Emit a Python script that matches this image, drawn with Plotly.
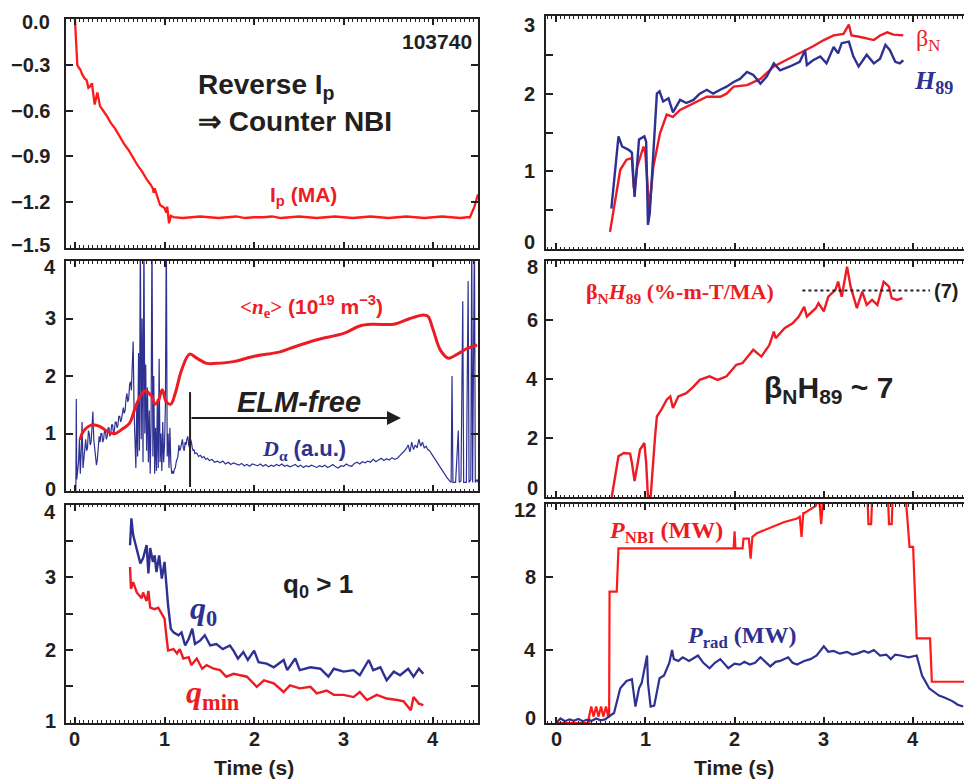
import plotly.graph_objects as go

W, H = 964, 780
INK = "#231f20"
RED = "#ed1c24"
RED2 = "#ff1a1a"
BLUE = "#2e3192"

# ---------------- data ----------------
# Top-left: plasma current Ip (MA)
ip_t = [0.0, 0.01, 0.026, 0.045, 0.06, 0.08, 0.11, 0.13, 0.15, 0.17, 0.19, 0.20, 0.22, 0.25, 0.28,
        0.35, 0.40, 0.45, 0.50, 0.55, 0.60, 0.65, 0.70, 0.75, 0.80, 0.85, 0.868, 0.88, 0.89,
        0.95, 1.0, 1.02, 1.03, 1.05, 1.07, 1.10,
        1.2, 1.3, 1.4, 1.5, 1.6, 1.7, 1.8, 1.9, 2.0, 2.1, 2.2, 2.3, 2.4, 2.5, 2.6, 2.7, 2.8,
        2.9, 3.0, 3.1, 3.2, 3.3, 3.4, 3.5, 3.6, 3.7, 3.8, 3.9, 4.0, 4.1, 4.2, 4.3, 4.38,
        4.41, 4.46, 4.5]
ip_v = [0.0, -0.12, -0.30, -0.32, -0.33, -0.36, -0.39, -0.40, -0.45, -0.44, -0.42, -0.47, -0.56, -0.48, -0.57,
        -0.63, -0.68, -0.72, -0.77, -0.82, -0.86, -0.91, -0.96, -1.00, -1.05, -1.09, -1.11, -1.14, -1.11,
        -1.22, -1.24, -1.27, -1.23, -1.34, -1.29, -1.30,
        -1.305, -1.30, -1.295, -1.30, -1.305, -1.30, -1.295, -1.305, -1.30, -1.30, -1.295, -1.305, -1.30, -1.295, -1.30, -1.305, -1.30,
        -1.295, -1.30, -1.305, -1.30, -1.295, -1.30, -1.305, -1.30, -1.295, -1.30, -1.305, -1.30, -1.295, -1.30, -1.305, -1.30,
        -1.30, -1.23, -1.15]

# Middle-left: line-averaged density <ne> (1e19 m^-3)
ne_t = [0.056, 0.09, 0.19, 0.28, 0.39, 0.45, 0.54, 0.61, 0.69, 0.78, 0.86, 0.89, 0.93, 0.975, 1.02, 1.07,
        1.12, 1.19, 1.28, 1.36, 1.47, 1.58, 1.77, 1.99, 2.29, 2.40, 2.70, 3.0, 3.18, 3.33, 3.56, 3.74,
        3.89, 3.94, 4.0, 4.08, 4.17, 4.28, 4.38, 4.49]
ne_v = [0.89, 1.03, 1.15, 1.12, 1.01, 1.0, 1.09, 1.18, 1.52, 1.74, 1.64, 1.51, 1.57, 1.76, 1.55, 1.51,
        1.70, 2.10, 2.38, 2.31, 2.22, 2.22, 2.25, 2.34, 2.42, 2.48, 2.63, 2.74, 2.87, 2.90, 2.90, 3.0,
        3.06, 3.04, 2.80, 2.45, 2.31, 2.39, 2.48, 2.54]

# Middle-left: D-alpha (a.u.)
da_t = [0.0, 0.01, 0.015, 0.02, 0.03, 0.04, 0.05, 0.06, 0.07, 0.08, 0.09, 0.10, 0.11, 0.12, 0.13, 0.14,
        0.15, 0.16, 0.17, 0.18, 0.19, 0.20, 0.21, 0.22, 0.23, 0.24, 0.25, 0.26, 0.27, 0.28, 0.29, 0.30,
        0.31, 0.32, 0.33, 0.34, 0.35, 0.36, 0.37, 0.38, 0.39, 0.40, 0.41, 0.42, 0.43, 0.44, 0.45, 0.46,
        0.47, 0.48, 0.49, 0.50, 0.51, 0.52, 0.53, 0.54, 0.55, 0.56, 0.57, 0.58, 0.59, 0.60, 0.61, 0.62,
        0.63, 0.64, 0.65, 0.66, 0.67, 0.68, 0.69, 0.70, 0.71, 0.72,
        0.73, 0.74, 0.75, 0.76, 0.77, 0.78, 0.79, 0.80, 0.81, 0.82, 0.83, 0.84, 0.85, 0.86, 0.87, 0.88,
        0.89, 0.90, 0.91, 0.92, 0.93, 0.94, 0.95, 0.96, 0.97, 0.98, 0.99, 1.00, 1.01, 1.02, 1.03, 1.04,
        1.05, 1.06, 1.07, 1.08, 1.09, 1.10, 1.11, 1.12, 1.13, 1.14, 1.15, 1.16, 1.17, 1.18, 1.19, 1.20,
        1.21, 1.22, 1.23, 1.24, 1.25, 1.26, 1.27, 1.28, 1.29, 1.30, 1.31, 1.32, 1.33, 1.34, 1.36, 1.38,
        1.40, 1.42, 1.44, 1.46, 1.48, 1.50, 1.53, 1.56, 1.59, 1.62, 1.65, 1.68, 1.71, 1.74, 1.77, 1.80,
        1.83, 1.86, 1.89, 1.92, 1.95, 1.98, 2.01, 2.04, 2.07, 2.10, 2.13, 2.16, 2.19, 2.22, 2.25, 2.28,
        2.31, 2.34, 2.37, 2.40, 2.43, 2.46, 2.49, 2.52, 2.55, 2.58, 2.61, 2.64, 2.67, 2.70, 2.73, 2.76,
        2.79, 2.82, 2.85, 2.88, 2.91, 2.94, 2.97, 3.00, 3.03, 3.06, 3.09, 3.12, 3.15, 3.18, 3.21, 3.24,
        3.27, 3.30, 3.33, 3.36, 3.39, 3.42, 3.45, 3.48, 3.51, 3.54, 3.57, 3.60, 3.63, 3.66, 3.68, 3.70,
        3.72, 3.74, 3.76, 3.78, 3.80, 3.82, 3.84, 3.86, 3.88, 3.90, 3.92, 3.94, 3.96, 3.98, 4.00, 4.03,
        4.06, 4.09, 4.12, 4.15, 4.18, 4.20, 4.21, 4.22, 4.25, 4.28, 4.29, 4.31, 4.33, 4.34, 4.37, 4.39,
        4.40, 4.42, 4.43, 4.44, 4.46, 4.47, 4.49, 4.5]
da_v = [0.0, 0.0, 1.6, 0.2, 0.35, 0.5, 0.9, 0.3, 0.7, 1.2, 0.4, 0.6, 0.8, 0.9, 0.7, 0.75,
        1.05, 1.0, 0.8, 0.85, 1.1, 1.38, 0.9, 0.7, 0.6, 0.45, 0.55, 0.7, 0.95, 0.85, 1.0, 1.0,
        0.85, 0.9, 1.05, 1.05, 0.9, 0.95, 1.1, 1.1, 0.95, 1.0, 1.15, 1.15, 1.0, 1.05, 1.2, 1.2,
        1.1, 1.15, 1.3, 1.3, 1.2, 1.25, 1.4, 1.45, 1.35, 1.4, 1.6, 1.7, 1.55, 1.6, 1.85, 1.9,
        1.75, 2.4, 2.6, 1.4, 0.8, 0.4, 1.5, 0.6, 2.4, 0.7,
        4.5, 0.9, 3.0, 0.5, 4.5, 1.0, 2.2, 0.7, 1.8, 0.5, 1.4, 0.3, 1.2, 4.5, 0.6, 2.0,
        0.3, 1.1, 0.35, 1.6, 0.4, 2.3, 0.5, 1.0, 0.35, 1.2, 0.5, 0.8, 1.5, 4.5, 0.6, 1.0,
        0.4, 1.1, 0.5, 0.3, 0.35, 0.3, 0.38, 0.4, 0.5, 0.55, 0.6, 0.8, 0.7, 0.75, 0.85, 0.9,
        0.75, 0.7, 0.85, 0.8, 0.9, 0.95, 0.8, 0.75, 0.9, 0.85, 0.75, 0.7, 0.72, 0.65, 0.66, 0.6,
        0.62, 0.58, 0.6, 0.55, 0.57, 0.53, 0.55, 0.5, 0.52, 0.49, 0.52, 0.47, 0.5, 0.46, 0.49, 0.47,
        0.45, 0.48, 0.44, 0.46, 0.43, 0.47, 0.45, 0.44, 0.47, 0.43, 0.46, 0.42, 0.45, 0.43, 0.46, 0.44,
        0.47, 0.43, 0.45, 0.42, 0.44, 0.46, 0.42, 0.45, 0.41, 0.44, 0.42, 0.45, 0.43, 0.41, 0.44, 0.42,
        0.45, 0.41, 0.43, 0.46, 0.42, 0.40, 0.44, 0.43, 0.47, 0.44, 0.43, 0.48, 0.50, 0.47, 0.51, 0.49,
        0.52, 0.50, 0.55, 0.51, 0.54, 0.57, 0.53, 0.56, 0.54, 0.58, 0.55, 0.57, 0.62, 0.66, 0.70, 0.74,
        0.80, 0.68, 0.85, 0.72, 0.80, 0.75, 0.90, 0.78, 0.85, 0.75, 0.78, 0.72, 0.70, 0.65, 0.60, 0.52,
        0.45, 0.38, 0.30, 0.24, 0.18, 0.15, 2.0, 0.15, 0.15, 1.05, 0.15, 0.18, 3.3, 0.15, 0.15, 3.65,
        0.15, 0.2, 4.5, 0.15, 4.5, 0.15, 0.2, 0.15]

# Bottom-left: q0 and qmin
q0_t = [0.615, 0.63, 0.65, 0.71, 0.73, 0.76, 0.80, 0.82, 0.84, 0.87, 0.89, 0.91, 0.94, 0.97, 1.0, 1.04,
        1.07, 1.10, 1.155, 1.19, 1.23, 1.27, 1.31, 1.34, 1.40, 1.45, 1.51, 1.58, 1.65, 1.73, 1.77, 1.82,
        1.88, 1.93, 2.0, 2.05, 2.14, 2.22, 2.33, 2.37, 2.46, 2.51, 2.63, 2.74, 2.83, 2.89, 3.0, 3.11,
        3.18, 3.28, 3.33, 3.41, 3.48, 3.56, 3.63, 3.72, 3.78, 3.84, 3.89]
q0_v = [3.44, 3.81, 3.58, 3.30, 3.19, 3.26, 3.44, 3.05, 3.40, 3.21, 3.30, 3.07, 3.30, 2.98, 3.21, 2.61,
        2.29, 2.24, 2.20, 2.24, 2.06, 2.15, 2.29, 2.08, 2.13, 2.20, 2.06, 2.08, 2.01, 2.06, 1.99, 1.88,
        1.97, 1.86, 1.99, 1.83, 1.81, 1.76, 1.86, 1.72, 1.88, 1.72, 1.76, 1.74, 1.63, 1.74, 1.70, 1.72,
        1.65, 1.86, 1.72, 1.76, 1.58, 1.70, 1.65, 1.74, 1.63, 1.74, 1.67]
qm_t = [0.615, 0.625, 0.65, 0.69, 0.745, 0.76, 0.80, 0.82, 0.84, 0.89, 0.93, 0.97, 1.0, 1.02, 1.04, 1.10,
        1.14, 1.17, 1.21, 1.27, 1.30, 1.36, 1.42, 1.47, 1.55, 1.62, 1.69, 1.77, 1.84, 1.92, 2.03, 2.11,
        2.22, 2.33, 2.40, 2.51, 2.63, 2.70, 2.81, 2.89, 3.0, 3.11, 3.18, 3.26, 3.37, 3.48, 3.60, 3.67,
        3.75, 3.78, 3.84, 3.89]
qm_v = [3.14, 2.84, 2.93, 2.79, 2.71, 2.79, 2.67, 2.81, 2.58, 2.56, 2.58, 2.49, 2.43, 2.20, 1.99, 2.01,
        1.95, 2.01, 1.88, 1.90, 1.79, 1.88, 1.74, 1.79, 1.74, 1.72, 1.63, 1.67, 1.65, 1.63, 1.49, 1.58,
        1.54, 1.42, 1.51, 1.47, 1.49, 1.40, 1.44, 1.38, 1.38, 1.35, 1.42, 1.31, 1.38, 1.33, 1.31, 1.29,
        1.17, 1.35, 1.26, 1.24]

# Top-right: beta_N and H89
bn_t = [0.605, 0.66, 0.72, 0.79, 0.85, 0.87, 0.88, 0.91, 0.98, 1.0, 1.045, 1.09, 1.165, 1.24, 1.31, 1.39,
        1.54, 1.69, 1.84, 1.91, 1.99, 2.14, 2.29, 2.44, 2.59, 2.73, 2.88, 3.0, 3.11, 3.22, 3.28, 3.31,
        3.41, 3.56, 3.63, 3.71, 3.78, 3.89]
bn_v = [0.22, 0.63, 1.02, 1.15, 1.17, 0.80, 0.76, 1.06, 1.32, 1.23, 0.50, 1.06, 1.49, 1.73, 1.70, 1.79,
        1.88, 1.96, 1.96, 2.0, 2.09, 2.11, 2.19, 2.35, 2.44, 2.52, 2.61, 2.69, 2.75, 2.77, 2.89, 2.75,
        2.73, 2.69, 2.75, 2.79, 2.76, 2.75]
h89_t = [0.62, 0.70, 0.74, 0.81, 0.85, 0.88, 0.93, 0.99, 1.01, 1.03, 1.05, 1.13, 1.16, 1.20, 1.26, 1.31,
         1.39, 1.46, 1.54, 1.61, 1.69, 1.76, 1.84, 1.91, 1.99, 2.06, 2.14, 2.21, 2.29, 2.36, 2.44, 2.51,
         2.62, 2.73, 2.79, 2.81, 2.88, 2.96, 3.03, 3.11, 3.16, 3.20, 3.28, 3.33, 3.39, 3.48, 3.56, 3.63,
         3.69, 3.74, 3.80, 3.85, 3.89]
h89_v = [0.52, 1.45, 1.32, 1.28, 1.24, 0.67, 1.41, 1.45, 1.38, 0.31, 0.46, 2.0, 2.03, 1.90, 1.94, 1.76,
         1.92, 1.88, 1.92, 2.0, 2.05, 2.0, 2.05, 2.09, 2.15, 2.19, 2.28, 2.24, 2.13, 2.22, 2.39, 2.30,
         2.35, 2.41, 2.56, 2.37, 2.43, 2.48, 2.39, 2.60, 2.52, 2.65, 2.67, 2.48, 2.35, 2.50, 2.39, 2.45,
         2.63, 2.56, 2.41, 2.39, 2.43]

# Middle-right: beta_N * H89
bh_t = [0.624, 0.70, 0.76, 0.83, 0.85, 0.88, 0.91, 0.94, 0.99, 1.01, 1.03, 1.06, 1.11, 1.13, 1.18, 1.24,
        1.28, 1.31, 1.37, 1.46, 1.54, 1.61, 1.72, 1.81, 1.91, 2.02, 2.09, 2.21, 2.30, 2.39, 2.44, 2.46,
        2.56, 2.65, 2.72, 2.78, 2.81, 2.91, 2.94, 3.0, 3.05, 3.13, 3.16, 3.20, 3.26, 3.30, 3.37, 3.43,
        3.48, 3.54, 3.60, 3.67, 3.73, 3.76, 3.82, 3.88]
bh_v = [0.0, 1.38, 1.49, 1.47, 1.16, 0.54, 1.04, 1.60, 1.83, 1.16, 0.0, 0.0, 2.06, 2.73, 2.96, 3.30,
        3.41, 3.02, 3.41, 3.52, 3.74, 3.97, 4.09, 3.97, 4.09, 4.48, 4.54, 4.99, 4.76, 5.15, 5.61, 5.38,
        5.72, 5.89, 6.12, 6.45, 6.12, 6.40, 6.57, 6.29, 6.79, 7.02, 7.30, 6.79, 7.81, 7.13, 6.40, 6.96,
        6.51, 6.68, 6.51, 7.30, 7.13, 6.74, 6.68, 6.74]
bh_ref = 7

# Bottom-right: NBI power and radiated power (MW)
pnbi_t = [0.0, 0.37, 0.37, 0.395, 0.42, 0.45, 0.475, 0.505, 0.53, 0.56, 0.585, 0.595, 0.60, 0.68, 0.70,
          1.99, 2.0, 2.01, 2.02, 2.09, 2.10, 2.16, 2.18, 2.20, 2.25, 2.40, 2.55, 2.70, 2.73, 2.75, 2.77,
          2.78, 2.85, 2.91, 2.93, 2.95, 2.97, 2.99, 3.0, 3.49, 3.50, 3.53, 3.54, 3.72, 3.73, 3.76, 3.77,
          3.92, 3.96, 4.0, 4.04, 4.19, 4.21, 4.57]
pnbi_v = [0.0, 0.0, 0.35, 0.9, 0.35, 0.9, 0.35, 0.9, 0.35, 0.9, 0.35, 0.35, 7.2, 7.2, 9.57,
          9.57, 10.5, 9.57, 9.57, 9.57, 10.1, 10.1, 9.0, 10.2, 10.4, 10.7, 11.0, 11.2, 11.3, 10.2, 11.5,
          11.5, 11.7, 11.9, 12.2, 12.2, 10.9, 12.2, 12.2, 12.2, 10.9, 10.9, 12.2, 12.2, 10.9, 10.9, 12.2,
          12.2, 9.65, 9.65, 4.64, 4.64, 2.26, 2.26]
prad_t = [0.0, 0.05, 0.1, 0.15, 0.2, 0.25, 0.3, 0.35, 0.4, 0.45, 0.5, 0.55, 0.59, 0.65, 0.72, 0.79, 0.85,
          0.87, 0.89, 0.93, 0.96, 1.02, 1.03, 1.06, 1.10, 1.16, 1.21, 1.27, 1.30, 1.32, 1.37, 1.42, 1.49,
          1.54, 1.59, 1.65, 1.72, 1.78, 1.84, 1.93, 2.0, 2.06, 2.11, 2.17, 2.23, 2.29, 2.35, 2.40, 2.46,
          2.51, 2.60, 2.65, 2.70, 2.78, 2.85, 2.92, 3.0, 3.05, 3.11, 3.18, 3.26, 3.32, 3.37, 3.45, 3.50,
          3.56, 3.63, 3.70, 3.75, 3.80, 3.86, 3.95, 4.04, 4.10, 4.18, 4.24, 4.29, 4.35, 4.44, 4.50, 4.56]
prad_v = [0.0, 0.25, 0.1, 0.2, 0.12, 0.22, 0.1, 0.18, 0.12, 0.25, 0.15, 0.2, 0.35, 0.55, 1.9, 2.3, 2.4,
          1.5, 0.9, 1.9, 2.2, 3.7, 2.2, 0.9, 0.95, 2.45, 2.6, 3.3, 4.0, 3.5, 3.4, 3.6, 3.4,
          3.55, 3.7, 3.3, 3.0, 3.3, 3.5, 3.0, 3.25, 3.2, 3.35, 3.2, 3.3, 3.6, 3.3, 3.1, 3.35,
          3.4, 3.6, 3.3, 3.2, 3.4, 3.5, 3.7, 4.2, 3.9, 3.95, 3.8, 3.9, 3.75, 3.8, 3.95, 3.85,
          4.0, 3.7, 3.75, 3.5, 3.75, 3.7, 3.6, 3.7, 2.6, 1.9, 1.7, 1.5, 1.4, 1.2, 1.0, 0.9]

# tick values / labels per panel
yt1 = [0.0, -0.3, -0.6, -0.9, -1.2, -1.5]
yl1 = ["0.0", "−0.3", "−0.6", "−0.9", "−1.2", "−1.5"]
yt2 = [0, 1, 2, 3, 4]
yt3 = [1, 2, 3, 4]
yt4 = [0, 1, 2, 3]
yt5 = [0, 2, 4, 6, 8]
yt6 = [0, 4, 8, 12]
xt = [0, 1, 2, 3, 4]

# ---------------- layout helpers ----------------
def fx(x):
    return x / W

def fy(y):
    return 1 - y / H

SANS = "Liberation Sans Narrow, Arial Narrow, Liberation Sans, Arial"
SERIF = "Liberation Serif, Times New Roman, serif"
TICKFONT = dict(family=SANS, size=20, color=INK, weight="bold")

# name, x px, y px (top, bottom), xrange, yrange, ytick vals, ytick text, minor y, x labels, mirror y,
# label right edge gap (px), shifts for top / bottom extreme labels (px)
panels = [
    ("1", (66, 478), (19.3, 247.7), [-0.1, 4.5], [-1.5, 0.0], yt1, yl1, None, False, True, 14, (3, -3)),
    ("2", (66, 478), (261, 491), [-0.1, 4.5], [0, 4], yt2, None, None, False, True, 8, (6, -2)),
    ("3", (66, 478), (504.5, 722.5), [-0.1, 4.5], [1, 4], yt3, None, 0.5, True, True, 8, (7, -2)),
    ("4", (546, 964), (16, 249), [-0.112, 4.57], [0, 3], yt4, None, 0.5, False, False, 9, (9, -7)),
    ("5", (546, 964), (261, 497), [-0.112, 4.57], [0, 8], yt5, None, None, False, False, 6, (6, -9)),
    ("6", (546, 964), (504, 723), [-0.112, 4.57], [0, 12], yt6, None, None, True, False, 8, (6, -5)),
]

layout = dict(width=W, height=H, margin=dict(l=0, r=0, t=0, b=0), paper_bgcolor="white",
              plot_bgcolor="white", showlegend=False)

fig = go.Figure()
annos = []

for name, xp, yp, xr, yr, yv, ytxt, yminor, xlab, ymirror, gap, shifts in panels:
    xk = "xaxis" if name == "1" else "xaxis" + name
    yk = "yaxis" if name == "1" else "yaxis" + name
    xref = "x" if name == "1" else "x" + name
    yref = "y" if name == "1" else "y" + name
    layout[xk] = dict(domain=[fx(xp[0]), fx(xp[1])], range=xr, anchor=yref,
                      showline=True, linewidth=2, linecolor=INK, mirror="ticks",
                      ticks="inside", ticklen=6, tickwidth=1.5, tickcolor=INK, tickmode="array",
                      tickvals=xt,
                      minor=dict(ticks="inside", dtick=0.05, tick0=0, ticklen=2.5, tickwidth=1, tickcolor=INK),
                      showticklabels=False, showgrid=False, zeroline=False, fixedrange=True)
    yd = dict(domain=[fy(yp[1]), fy(yp[0])], range=yr, anchor=xref,
              showline=True, linewidth=2, linecolor=INK, mirror="ticks" if ymirror else False,
              ticks="inside", ticklen=7, tickwidth=1.5, tickcolor=INK, tickmode="array", tickvals=yv,
              showticklabels=False, showgrid=False, zeroline=False, fixedrange=True)
    if yminor:
        yd["minor"] = dict(ticks="inside", dtick=yminor, ticklen=7, tickwidth=1.5, tickcolor=INK)
    layout[yk] = yd
    labels = ytxt if ytxt else [str(v) for v in yv]
    top_v, bot_v = max(yv), min(yv)
    for v, lab in zip(yv, labels):
        ys = -shifts[0] if v == top_v else (-shifts[1] if v == bot_v else 0)
        annos.append(dict(text=lab, x=fx(xp[0]), y=v, xref="paper", yref=yref, xanchor="right",
                          yanchor="middle", xshift=-gap, yshift=ys, showarrow=False, font=TICKFONT))
    if xlab:
        for v in xt:
            annos.append(dict(text=str(v), x=v, y=fy(739), xref=xref, yref="paper", xanchor="center",
                              yanchor="middle", showarrow=False, font=TICKFONT))


def line(t, v, n, color, width, shape="linear"):
    xa = "x" if n == "1" else "x" + n
    ya = "y" if n == "1" else "y" + n
    fig.add_trace(go.Scatter(x=t, y=v, xaxis=xa, yaxis=ya, mode="lines",
                             line=dict(color=color, width=width, shape=shape), hoverinfo="skip"))

line(ip_t, ip_v, "1", RED2, 2.3)
line(da_t, da_v, "2", BLUE, 1.2)
line(ne_t, ne_v, "2", RED, 3.0, "spline")
line(qm_t, qm_v, "3", RED, 2.4)
line(q0_t, q0_v, "3", BLUE, 2.4)
line(bn_t, bn_v, "4", RED, 2.4)
line(h89_t, h89_v, "4", BLUE, 2.4)
line(bh_t, bh_v, "5", RED, 2.4)
line(pnbi_t, pnbi_v, "6", RED2, 2.2)
line(prad_t, prad_v, "6", BLUE, 2.2)

layout["annotations"] = annos
fig.update_layout(**layout)

# shapes: ELM-free marker, reference line at 7
fig.add_shape(type="line", xref="x2", yref="y2", x0=1.285, x1=1.285, y0=0.07, y1=1.72,
              line=dict(color=INK, width=2))
fig.add_shape(type="line", xref="x5", yref="y5", x0=2.76, x1=4.19, y0=bh_ref, y1=bh_ref,
              line=dict(color=INK, width=2, dash="dot"))
fig.add_annotation(x=3.64, y=1.27, xref="x2", yref="y2", ax=1.285, ay=1.27, axref="x2", ayref="y2",
                   text="", showarrow=True, arrowhead=2, arrowsize=1.4, arrowwidth=2, arrowcolor=INK)

def note(text, x, y, size, color=INK, family=SANS, xanchor="left", weight="bold", italic=False):
    fig.add_annotation(text=text, x=fx(x), y=fy(y), xref="paper", yref="paper", showarrow=False,
                       xanchor=xanchor, yanchor="middle",
                       font=dict(family=family, size=size, color=color, weight=weight,
                                 style="italic" if italic else "normal"))

note("103740", 437, 41, 21, xanchor="center")
note("Reverse I<sub>p</sub>", 196, 86, 28)
note("⇒ Counter NBI", 196, 121, 28)
note("I<sub>p</sub> (MA)", 268, 196, 21, color=RED)
note("β<sub>N</sub>", 914, 40, 24, color=RED, family=SERIF, weight="normal")
note("<i>H</i><sub>89</sub>", 912, 82, 26, color=BLUE, family=SERIF)
note('<span style="font-family:Liberation Serif">&lt;<i>n</i><sub>e</sub>&gt;</span> (10<sup>19</sup> m<sup>−3</sup>)',
     238, 307, 21, color=RED)
note("ELM-free", 299, 402, 29, xanchor="center", italic=True)
note('<span style="font-family:Liberation Serif"><i>D</i><sub>α</sub></span> (a.u.)', 260, 450, 22, color=BLUE)
note("β<sub>N</sub><i>H</i><sub>89</sub> (%-m-T/MA)", 584, 293, 22, color=RED, family=SERIF)
note("(7)", 932, 291, 20)
note("β<sub>N</sub>H<sub>89</sub> ~ 7", 762, 389, 30)
note("q<sub>0</sub> &gt; 1", 281, 585, 26)
note("<i>q</i><sub>0</sub>", 188, 610, 32, color=BLUE, family=SERIF)
note("<i>q</i><sub>min</sub>", 184, 694, 32, color=RED, family=SERIF)
note("<i>P</i><sub>NBI</sub> (MW)", 607, 532, 24, color=RED, family=SERIF)
note("<i>P</i><sub>rad</sub> (MW)", 685, 637, 24, color=BLUE, family=SERIF)
note("Time (s)", 254, 767, 21, xanchor="center")
note("Time (s)", 734, 767, 21, xanchor="center")

fig.write_html("out.html")
